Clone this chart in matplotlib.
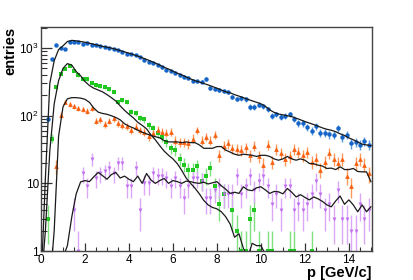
import numpy as np
import matplotlib
matplotlib.use("Agg")
import matplotlib.pyplot as plt
from matplotlib.ticker import FixedLocator, FixedFormatter, MultipleLocator

nan = np.nan

# bin centres (0.2 GeV/c bins)
p_centers = np.arange(0.1, 15.0, 0.2)

blue_counts = [nan, 90, 690, 1100, 1000, 970, 1230, 1250, 1230, 1140,
               1200, 1100, 1100, 1060, 1050, 1000, 970, 940, 880, 830,
               820, 780, 740, 670, 630, 600, 560, 520, 480, 460,
               430, 400, 375, 365, 330, 325, 320, 350, 260, 245,
               240, 235, 228, 190, 178, 180, 175, 135, 135, 145,
               138, 125, 100, 105, 95, 98, 105, 90, 77, 77,
               68, 60, 70, 56, 56, 53, 52, 65, 48, 52,
               39, 41, 37, 42, 37]

green_counts = [nan, 3, 46, 265, 420, 490, 550, 460, 400, 345,
                345, 305, 285, 275, 262, 245, 225, 160, 170, 160,
                115, 108, 94, 88, 73, 65, 55, 48, 41, 33,
                31, 23, 19, 16, 16, 18, 11, 13, 17, 9,
                5, 7, nan, 4, 2, 1, 1, 3, 4, 1,
                nan, 1, 1, nan, nan, nan, 1, 1, nan, nan,
                nan, 1, nan, nan, nan, nan, nan, nan, nan, nan,
                nan, nan, nan, nan, nan]

orange_counts = [nan, nan, nan, 18, 104, 160, 148, 138, 128, 124,
                 118, 128, 84, 88, 75, 84, 91, 77, 72, 70,
                 61, 69, 61, 58, 50, 55, 62, 58, 56, 58,
                 43, 41, 41, 39, 46, 61, 43, 49, 43, 52,
                 26, 36, 39, 33, 32, 31, 34, 26, 36, 25,
                 19, 37, 21, 32, 28, 23, 25, 32, 29, 26,
                 29, 21, 23, 16, 21, 28, 23, 20, 23, 13,
                 9, 20, 23, 19, 14]

purple_counts = [nan, nan, nan, nan, nan, nan, nan, 4, 1, 14,
                 9, 23, 12, 14, 15, 17, 14, 20, 20, 9,
                 9, 17, 4, 10, 10, 14, 13, 13, 12, 9,
                 12, 9, 6, 9, 12, 12, 11, 6, 6, 8,
                 9, 7, 7, 7, 13, 7, 9, 13, 8, 11,
                 13, 9, 5, 7, 4, 9, 9, 4, 5, 4,
                 5, 7, 11, 7, 4, 5, 3, 8, 3, 3,
                 2, 2, 5, 3, 4]

# model curves sampled every 0.2 GeV/c from 0 to 15
curve_p = np.arange(0.0, 15.01, 0.2)

blue_curve = [0.3, 12, 300, 650, 950, 1080, 1250, 1300, 1280, 1250,
              1220, 1180, 1140, 1100, 1060, 1030, 1000, 960, 920, 880,
              840, 800, 760, 720, 680, 640, 600, 560, 520, 490,
              455, 425, 400, 375, 350, 330, 315, 300, 285, 270,
              255, 240, 225, 218, 205, 195, 185, 175, 166, 158,
              150, 138, 122, 112, 106, 103, 100, 97, 92, 87,
              82, 78, 74, 70, 66, 63, 61, 58, 54, 51,
              47, 44, 41, 38, 37, 36]

green_curve = [0.3, 2, 30, 150, 330, 500, 590, 560, 450, 390,
               320, 280, 255, 240, 225, 205, 185, 165, 140, 120,
               105, 93, 80, 72, 64, 52, 44, 36, 30, 26,
               23, 19.5, 15.5, 12, 10, 8.5, 7, 5.6, 4.8, 4.4,
               4.2, 3.8, 3.2, 2.5, 1.6, 1.8, 1.1, 0.8, 1.3, 1.2,
               1.2, 0.9, 0.6, nan, nan, nan, nan, nan, nan, nan,
               nan, nan, nan, nan, nan, nan, nan, nan, nan, nan,
               nan, nan, nan, nan, nan, nan]

orange_curve = [nan, nan, 0.3, 2, 50, 135, 178, 185, 185, 182,
                175, 158, 130, 113, 108, 105, 100, 94, 87, 76,
                70, 66, 61, 57, 54, 51, 49, 47, 43, 41,
                41, 41, 40, 41, 40, 40, 37, 33, 33, 33,
                35, 35, 31, 29, 27, 26, 27, 26.5, 26, 25,
                26, 26, 25, 23, 22, 23, 25, 23, 22, 23,
                22, 19.7, 19.5, 18.6, 18, 16.6, 16.8, 16, 17.6, 16,
                16, 16.6, 15, 14.8, 14.8, 10.6]

purple_curve = [nan, nan, nan, nan, nan, 0.8, 1.2, 3.2, 7, 10.5,
                11, 10.6, 12.5, 14.5, 13, 11.5, 13.5, 14.5, 12, 12.8,
                11.5, 10.6, 12.8, 10, 14, 11.2, 10, 11, 11.8, 10,
                11, 10.6, 10, 10.8, 10.6, 10.2, 10, 10.4, 9.8, 10.2,
                10.6, 9.2, 8.2, 7.1, 7.4, 7.1, 8.9, 8, 7.8, 8.6,
                8.9, 8, 7.1, 7.6, 7.5, 7, 8.4, 7.4, 6.3, 6.8,
                6.2, 5.7, 6.3, 5.9, 5.4, 4.8, 4.5, 5.5, 6.5, 4.9,
                5.7, 4.8, 3.8, 4.8, 3.8, 4.5]

y_tick_values = [1, 10, 100, 1000]
y_tick_labels = ["1", "10", r"$10^{2}$", r"$10^{3}$"]
x_tick_values = [0, 2, 4, 6, 8, 10, 12, 14]

plt.rcParams['font.family'] = ['Liberation Sans', 'DejaVu Sans']
plt.rcParams['mathtext.fontset'] = 'custom'
plt.rcParams['mathtext.rm'] = 'Liberation Sans'
plt.rcParams['mathtext.it'] = 'Liberation Sans:italic'
plt.rcParams['mathtext.bf'] = 'Liberation Sans:bold'

fig = plt.figure(figsize=(4.14, 2.80), dpi=100)
ax = fig.add_axes([41/414, 29/280, 331/414, 224/280])

series = [
    (blue_counts, '#1565c8', '#5b9be0', 'o', 3.2),
    (green_counts, '#22c722', '#7fe07f', 's', 2.8),
    (orange_counts, '#f86010', '#fb9a5a', '^', 3.4),
    (purple_counts, '#c070f0', '#dba8f7', 'v', 2.8),
]

for counts, col, ecol, mk, ms in series:
    y = np.array(counts, dtype=float)
    err = np.sqrt(y)
    lo = np.minimum(err, y * 0.9999)
    ax.errorbar(p_centers, y, yerr=[lo, err], fmt=mk, color=col, ecolor=ecol,
                markersize=ms, markeredgewidth=0, elinewidth=1.0,
                capsize=1.3, capthick=0.8, zorder=2)

for curve in (blue_curve, green_curve, orange_curve, purple_curve):
    ax.plot(curve_p, curve, color='#1a1a1a', lw=0.9, zorder=3)

ax.set_yscale('log')
ax.set_xlim(0, 15.05)
ax.set_ylim(1, 2050)

ax.yaxis.set_major_locator(FixedLocator(y_tick_values))
ax.yaxis.set_major_formatter(FixedFormatter(y_tick_labels))
ax.xaxis.set_major_locator(FixedLocator(x_tick_values))
ax.xaxis.set_minor_locator(MultipleLocator(0.5))

ax.tick_params(axis='both', which='both', direction='in', top=False, right=False,
               labelsize=8.5, colors='#333333', labelcolor='black')
ax.tick_params(axis='x', which='major', length=6, width=0.9, pad=2)
ax.tick_params(axis='x', which='minor', length=3, width=0.8)
ax.tick_params(axis='y', which='major', length=8, width=0.9, pad=1.5)
ax.tick_params(axis='y', which='minor', length=4.5, width=0.8)

for s in ax.spines.values():
    s.set_color('#444444')
    s.set_linewidth(1.0)

fig.text(10/414, 1 - 27/280, 'entries', rotation=90, ha='center', va='top',
         fontsize=10.5, fontweight='bold')
fig.text(372/414, 1 - 279.5/280, 'p [GeV/c]', ha='right', va='bottom',
         fontsize=10.5, fontweight='bold')

fig.savefig('out.png', dpi=100)
